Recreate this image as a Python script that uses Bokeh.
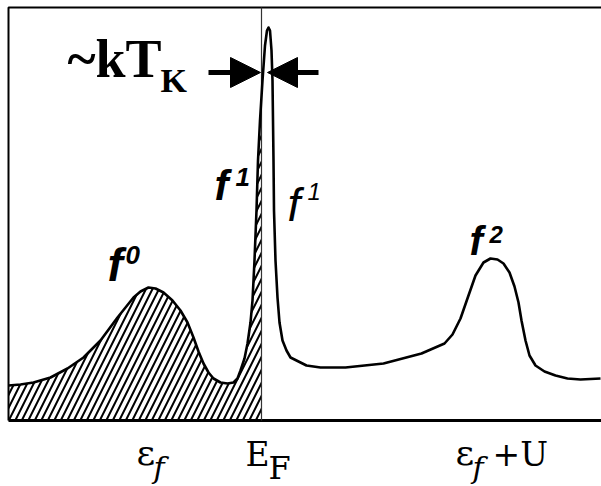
from bokeh.plotting import figure
from bokeh.models import Arrow, NormalHead, Range1d
from bokeh.core.properties import value
from bokeh.embed import file_html
from bokeh.resources import INLINE
import numpy as np

# f-electron spectral density (arbitrary units) against energy measured from E_F
energy = [-2.53, -2.41, -2.28, -2.11, -1.94, -1.78, -1.61, -1.44, -1.28, -1.21,
          -1.13, -1.06, -0.98, -0.89, -0.81, -0.74, -0.68, -0.63, -0.58, -0.53,
          -0.48, -0.41, -0.34, -0.28, -0.24, -0.21, -0.17, -0.14, -0.11, -0.09,
          -0.07, -0.05, -0.035, -0.015, 0.01, 0.035, 0.055, 0.07, 0.085, 0.10,
          0.11, 0.115, 0.12, 0.125, 0.14, 0.16, 0.18, 0.21, 0.25, 0.29,
          0.39, 0.45, 0.59, 0.84, 1.22, 1.60, 1.83, 1.91, 1.99, 2.07,
          2.14, 2.22, 2.29, 2.36, 2.42, 2.48, 2.53, 2.57, 2.60, 2.64,
          2.68, 2.74, 2.83, 2.94, 3.06, 3.19, 3.39]
density = [0.35, 0.36, 0.38, 0.43, 0.52, 0.63, 0.80, 1.03, 1.23, 1.29,
           1.33, 1.32, 1.28, 1.20, 1.10, 0.98, 0.83, 0.69, 0.57, 0.48,
           0.42, 0.38, 0.37, 0.38, 0.42, 0.50, 0.62, 0.77, 0.98, 1.20,
           1.60, 2.10, 2.60, 3.00, 3.40, 3.75, 3.90, 3.93, 3.90, 3.70,
           3.40, 3.00, 2.60, 2.10, 1.60, 1.23, 0.98, 0.80, 0.70, 0.63,
           0.58, 0.55, 0.53, 0.53, 0.57, 0.67, 0.77, 0.86, 1.02, 1.25,
           1.45, 1.58, 1.62, 1.61, 1.57, 1.48, 1.34, 1.18, 1.00, 0.80,
           0.65, 0.55, 0.49, 0.45, 0.42, 0.41, 0.42]

# characteristic energies
E_F = 0.0
EPS_F = -1.13
EPS_F_U = 2.29

# plotted window (energy, density)
E_MIN, E_MAX = -2.53, 3.45
D_TOP = 4.13

p = figure(width=601, height=486,
           x_range=Range1d(-2.61, 3.40), y_range=Range1d(-0.66, 4.20),
           x_axis_location=None, y_axis_location=None,
           output_backend="svg", toolbar_location=None,
           min_border=0)
p.grid.visible = False
p.outline_line_color = None
p.background_fill_color = "white"
p.border_fill_color = "white"

# occupied states below the Fermi level, hatched
x = np.array(energy)
y = np.array(density)
below = x < E_F
fill_x = np.append(x[below], E_F)
fill_y = np.append(y[below], np.interp(E_F, x, y))
p.varea(x=fill_x, y1=0, y2=fill_y, fill_color=None,
        hatch_pattern="/", hatch_scale=13, hatch_weight=2, hatch_color="black")

# open frame: top, left and base line
p.line(x=[E_MAX, E_MIN, E_MIN], y=[D_TOP, D_TOP, 0], line_color="black", line_width=2)
p.line(x=[E_MIN, E_MAX], y=[0, 0], line_color="black", line_width=3)
p.line(x=[E_F, E_F], y=[0, D_TOP], line_color="#333333", line_width=1.2)

p.line(energy, density, line_color="black", line_width=2.6, line_join="round")

# width of the Kondo resonance
head_y = 3.48
for x0, x1 in [(E_F - 0.53, E_F - 0.01), (E_F + 0.57, E_F + 0.06)]:
    p.add_layout(Arrow(x_start=x0, y_start=head_y, x_end=x1, y_end=head_y,
                       line_width=5, line_color="black",
                       end=NormalHead(size=30, fill_color="black",
                                      line_color="black", line_width=1)))


def label(x, y, text, font, size, style="normal"):
    # y is the vertical centre of the text line
    p.text(x=[x], y=[y], text=[text], text_font=value(font),
           text_font_size=f"{size}px", text_font_style=style,
           text_color="black", text_align="left", text_baseline="middle")


SERIF = "Liberation Serif"
SANS = "Liberation Sans"
MATH = "DejaVu Serif"

label(-1.94, 3.62, "~kT", SERIF, 54, "bold")
label(-1.01, 3.40, "K", SERIF, 34, "bold")

label(EPS_F - 0.41, 1.56, "f", SANS, 46, "bold italic")
label(EPS_F - 0.23, 1.66, "0", SANS, 26, "bold italic")

label(E_F - 0.47, 2.35, "f", SANS, 42, "bold italic")
label(E_F - 0.26, 2.44, "1", SANS, 26, "bold italic")

label(E_F + 0.26, 2.16, "f", SANS, 46, "italic")
label(E_F + 0.46, 2.29, "1", SANS, 24, "italic")

label(EPS_F_U - 0.21, 1.80, "f", SANS, 40, "bold italic")
label(EPS_F_U - 0.01, 1.86, "2", SANS, 24, "bold italic")

# energy markers under the frame
label(EPS_F - 0.12, -0.32, "ε", MATH, 36)
label(EPS_F + 0.05, -0.47, "f", MATH, 30, "italic")

label(E_F - 0.16, -0.34, "E", MATH, 33)
label(E_F + 0.07, -0.47, "F", MATH, 32)

label(EPS_F_U - 0.35, -0.32, "ε", MATH, 36)
label(EPS_F_U - 0.18, -0.47, "f", MATH, 30, "italic")
label(EPS_F_U + 0.02, -0.34, "+U", MATH, 33)

open("out.html", "w").write(file_html(p, INLINE))
